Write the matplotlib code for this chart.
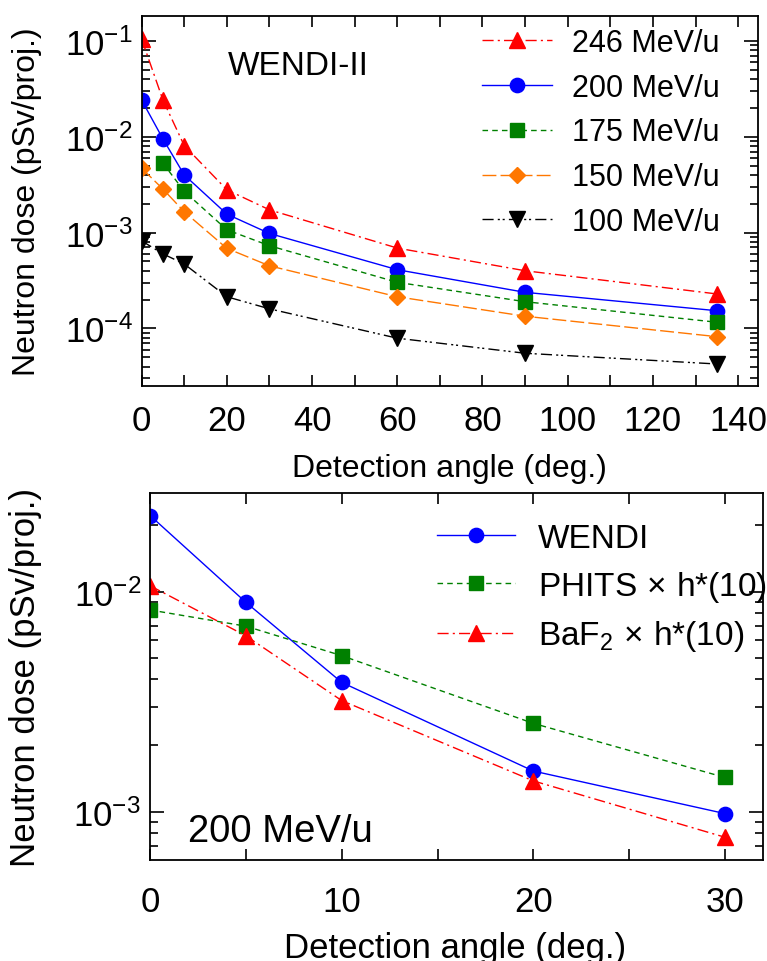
import numpy as np
import matplotlib
matplotlib.use("Agg")
import matplotlib.pyplot as plt
from matplotlib.ticker import LogLocator, MultipleLocator, NullFormatter

plt.rcParams['font.family'] = ['Liberation Sans', 'DejaVu Sans']
plt.rcParams['mathtext.fontset'] = 'custom'
plt.rcParams['mathtext.rm'] = 'Liberation Sans'
plt.rcParams['mathtext.it'] = 'Liberation Sans:italic'
plt.rcParams['axes.linewidth'] = 1.3

# top panel: WENDI-II dose vs angle for several beam energies
angles = [0, 5, 10, 20, 30, 60, 90, 135]
angles_175 = [5, 10, 20, 30, 60, 90, 135]
dose_246 = [0.105, 0.0242, 0.0081, 0.0028, 0.00173, 6.9e-4, 4.0e-4, 2.29e-4]
dose_200 = [0.0242, 0.0095, 0.0040, 1.56e-3, 9.8e-4, 4.1e-4, 2.38e-4, 1.53e-4]
dose_175 = [5.3e-3, 2.7e-3, 1.07e-3, 7.3e-4, 3.03e-4, 1.9e-4, 1.16e-4]
dose_150 = [4.7e-3, 2.85e-3, 1.65e-3, 6.85e-4, 4.5e-4, 2.14e-4, 1.34e-4, 8.2e-5]
dose_100 = [8.2e-4, 6.0e-4, 4.7e-4, 2.14e-4, 1.6e-4, 7.9e-5, 5.5e-5, 4.25e-5]

# bottom panel: 200 MeV/u comparison
angles_b = [0, 5, 10, 20, 30]
wendi = [0.0222, 8.95e-3, 3.87e-3, 1.53e-3, 9.8e-4]
phits = [8.26e-3, 6.97e-3, 5.12e-3, 2.52e-3, 1.43e-3]
baf2 = [0.01064, 6.3e-3, 3.2e-3, 1.38e-3, 7.65e-4]

orange = '#ff7700'
dashdot = [8, 3, 1.5, 3]
dashdotdot = [8, 3, 1.5, 2, 1.5, 3]

fig = plt.figure(figsize=(7.67, 9.62), dpi=100)
ax1 = fig.add_axes([0.1847, 0.598, 0.8032, 0.3846])
ax2 = fig.add_axes([0.1956, 0.105, 0.7996, 0.3815])


def style(ax, xpad, labelsize):
    ax.set_yscale('log')
    ax.tick_params(which='both', direction='in', top=True, right=True,
                   labelsize=25, width=1.2)
    ax.tick_params(axis='y', pad=6.5)
    ax.tick_params(axis='x', pad=xpad)
    ax.tick_params(which='major', length=10)
    ax.tick_params(which='minor', length=6)
    ax.tick_params(axis='x', which='both', length=8)
    ax.yaxis.set_minor_locator(LogLocator(base=10, subs=np.arange(2, 10)))
    ax.yaxis.set_minor_formatter(NullFormatter())
    ax.set_xlabel('Detection angle (deg.)', fontsize=labelsize)
    ax.set_ylabel('Neutron dose (pSv/proj.)', fontsize=labelsize)


ax1.plot(angles, dose_246, color='red', marker='^', ms=11, lw=1,
         dashes=dashdot, label='246 MeV/u')
ax1.plot(angles, dose_200, color='blue', marker='o', ms=10.3, lw=1,
         label='200 MeV/u')
ax1.plot(angles_175, dose_175, color='green', marker='s', ms=9.5, lw=1,
         dashes=[4, 3], label='175 MeV/u')
ax1.plot(angles, dose_150, color=orange, marker='D', ms=8.5, lw=1,
         dashes=[10, 3], label='150 MeV/u')
ax1.plot(angles, dose_100, color='black', marker='v', ms=11, lw=1,
         dashes=dashdotdot, label='100 MeV/u')
style(ax1, 13.5, 23)
ax1.set_xlim(0, 144.6)
ax1.set_ylim(2.52e-5, 0.184)
ax1.xaxis.set_major_locator(MultipleLocator(20))
ax1.xaxis.set_minor_locator(MultipleLocator(10))
ax1.xaxis.set_label_coords(0.5, -0.182)
ax1.yaxis.set_label_coords(-0.162, 0.5)
ax1.text(0.14, 0.842, 'WENDI-II', transform=ax1.transAxes, fontsize=24,
         va='baseline')
ax1.legend(loc='upper left', fontsize=22, frameon=False, handlelength=2.29,
           handletextpad=0.65, labelspacing=0.485, borderaxespad=0,
           borderpad=0, bbox_to_anchor=(0.5524, 0.9675))

ax2.plot(angles_b, wendi, color='blue', marker='o', ms=10.3, lw=1,
         label='WENDI')
ax2.plot(angles_b, phits, color='green', marker='s', ms=9.5, lw=1,
         dashes=[4, 3], label=r'PHITS$\,\times\,$h*(10)')
ax2.plot(angles_b, baf2, color='red', marker='^', ms=11, lw=1,
         dashes=dashdot, label=r'BaF$_2$$\,\times\,$h*(10)')
style(ax2, 18, 25)
ax2.set_xlim(0, 32)
ax2.set_ylim(6.03e-4, 0.0281)
ax2.xaxis.set_major_locator(MultipleLocator(10))
ax2.xaxis.set_minor_locator(MultipleLocator(5))
ax2.xaxis.set_label_coords(0.498, -0.1935)
ax2.yaxis.set_label_coords(-0.176, 0.5)
ax2.text(0.062, 0.0526, '200 MeV/u', transform=ax2.transAxes, fontsize=27.5,
         va='baseline')
ax2.legend(loc='upper left', fontsize=24, frameon=False, handlelength=2.34,
           handletextpad=0.69, labelspacing=0.44, borderaxespad=0,
           borderpad=0, bbox_to_anchor=(0.4675, 0.9185))

fig.savefig('out.png', dpi=100)
